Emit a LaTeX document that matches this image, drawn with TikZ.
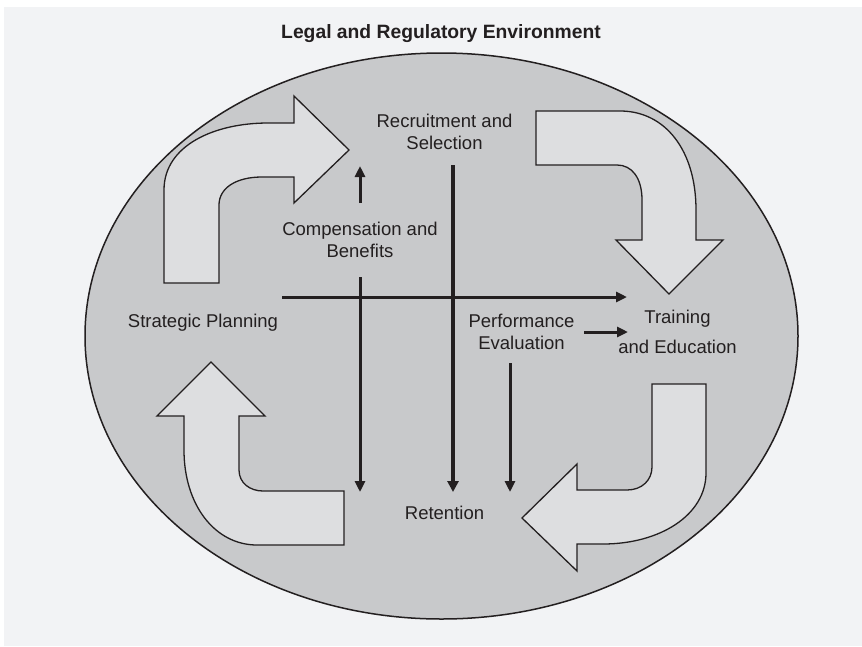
\documentclass[tikz,border=0pt]{standalone}
\usepackage{fontspec}
\setmainfont{Liberation Sans}
\usetikzlibrary{arrows.meta}
\definecolor{panel}{HTML}{F2F3F5}
\definecolor{ellfill}{HTML}{C8C9CB}
\definecolor{arrfill}{HTML}{DDDEE0}
\definecolor{ink}{HTML}{231F20}
\tikzset{
  bigarrow/.style={draw=ink, line width=1.3pt, fill=arrfill, line join=miter},
  lbl/.style={text=ink, font=\fontsize{18.5}{22}\selectfont, align=center, inner sep=0pt},
  flow/.style={draw=ink, line width=3pt, -{Triangle[length=11pt,width=10pt]}},
  flowthick/.style={draw=ink, line width=4pt, -{Triangle[length=11pt,width=11pt]}},
}
\begin{document}
\begin{tikzpicture}[x=1pt,y=-1pt]
\useasboundingbox (0,0) rectangle (862,646);
\fill[white] (0,0) rectangle (862,646);
\fill[panel] (4,7) rectangle (862,646);
% ellipse
\draw[ink, line width=1.5pt, fill=ellfill] (441.5,336) ellipse [x radius=356.5pt, y radius=283pt];
% title
\node[lbl, font=\bfseries\fontsize{19.3}{22}\selectfont] (title) at (441,34) {Legal and Regulatory Environment};
% curved arrows
\draw[bigarrow] (164,283) -- (164,190) .. controls (164,145) and (215,123) .. (268,123) -- (294,123) -- (294,96) -- (349,150) -- (294,203) -- (294,177) -- (262,177) .. controls (236,177) and (219,188) .. (219,205) -- (219,283) -- cycle;
\draw[bigarrow] (536,111) -- (620,111) .. controls (665,111) and (696,150) .. (696,210) -- (696,240) -- (723,240) -- (669,294) -- (616,240) -- (642,240) -- (642,200) .. controls (642,178) and (632,165) .. (617,165) -- (536,165) -- cycle;
\draw[bigarrow] (211,362) -- (265,416) -- (239,416) -- (239,470) .. controls (239,483) and (250,491) .. (263,491) -- (344,491) -- (344,545) -- (257,545) .. controls (215,545) and (184,505) .. (184,450) -- (184,416) -- (157,416) -- cycle;
\draw[bigarrow] (652,384) -- (706,384) -- (706,473) .. controls (706,515) and (660,544) .. (603,544) -- (577,544) -- (577,571) -- (522,518) -- (577,464) -- (577,490) -- (627,490) .. controls (642,490) and (652,480) .. (652,467) -- cycle;
% labels
\node[lbl] (recruit) at (444.5,132) {Recruitment and\\Selection};
\node[lbl] (comp) at (360,239.5) {Compensation and\\Benefits};
\node[lbl] (strat) at (203,323) {Strategic Planning};
\node[lbl] (perf) at (521.5,331.5) {Performance\\Evaluation};
\node[lbl, font=\fontsize{18.5}{30}\selectfont] (train) at (677.5,332) {Training\\and Education};
\node[lbl] (ret) at (444.5,513) {Retention};
% connector end points
\coordinate (hstart) at (282,297);
\coordinate (hend) at (627,297);
\coordinate (upstart) at (360,203);
\coordinate (upend) at (360,166);
\coordinate (v1start) at (360,277);
\coordinate (v1end) at (360,492);
\coordinate (v2start) at (453,165);
\coordinate (v2end) at (453,492);
\coordinate (v3start) at (510,363);
\coordinate (v3end) at (510,492);
\coordinate (sstart) at (584,332);
\coordinate (send) at (628,332);
% connectors
\draw[flow] (hstart) -- (hend);
\draw[flow] (upstart) -- (upend);
\draw[flow] (v1start) -- (v1end);
\draw[flowthick] (v2start) -- (v2end);
\draw[flow] (v3start) -- (v3end);
\draw[flow] (sstart) -- (send);
\end{tikzpicture}
\end{document}
